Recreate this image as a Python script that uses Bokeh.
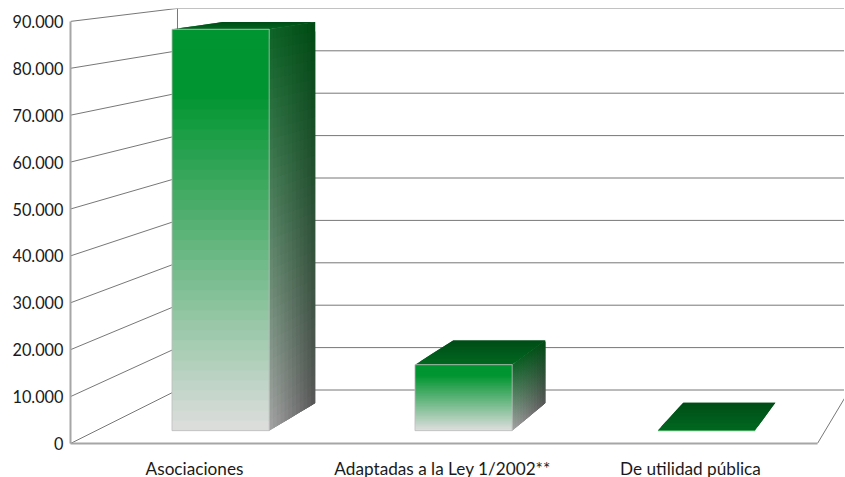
from bokeh.plotting import figure
from bokeh.embed import file_html
from bokeh.resources import INLINE
from bokeh.models import FixedTicker

categories = ["Asociaciones", "Adaptadas a la Ley 1/2002**", "De utilidad pública"]
values = [87600, 14400, 100]
tick_values = [0, 10000, 20000, 30000, 40000, 50000, 60000, 70000, 80000, 90000]
tick_labels = ["0", "10.000", "20.000", "30.000", "40.000", "50.000", "60.000", "70.000", "80.000", "90.000"]

PX_PER_CAT = 248.0
PX_PER_VAL = 46.9 / 10000
FONT = "Lato"

def proj(u, v, t):
    """category position u, value v, depth t (0 front .. 1 back) -> data coords"""
    left = -0.5 + t * 107 / PX_PER_CAT
    right = 2.512 + t * 32 / PX_PER_CAT
    x = left + (u + 0.5) / 3.0 * (right - left)
    y = v * (1 - t * (1 - 42.4 / 46.9)) + t * 53.5 / PX_PER_VAL
    return x, y

def hexc(c):
    return "#%02x%02x%02x" % tuple(int(round(a)) for a in c)

def mix(a, b, f):
    return tuple(p + (q - p) * f for p, q in zip(a, b))

GREEN = (0, 149, 48)
PALE = (222, 222, 222)
S_TL, S_TR = (14, 100, 40), (0, 74, 20)
S_BL, S_BR = (165, 165, 165), (85, 85, 85)
T_F, T_B = (0, 104, 32), (0, 76, 22)

p = figure(width=845, height=477, frame_width=774, frame_height=435,
           output_backend="svg", toolbar_location=None,
           x_range=(-0.5, 2.621), y_range=(0, 435 / PX_PER_VAL),
           min_border_left=70, min_border_right=0, min_border_top=8, min_border_bottom=34)
p.outline_line_color = None
p.grid.visible = False

# walls
GRID = "#777777"
for v in tick_values:
    x0, y0 = proj(-0.5, v, 0)
    x1, y1 = proj(-0.5, v, 1)
    x2, y2 = proj(2.8, v, 1)
    p.line([x0, x1, x2], [y0, y1, y1], line_color=GRID, line_width=1)
bx, by0 = proj(-0.5, 0, 1)
_, by1 = proj(-0.5, tick_values[-1], 1)
p.line([bx, bx], [by0, by1], line_color=GRID, line_width=1)
fx0, fy0 = proj(2.5, 0, 0)
fx1, fy1 = proj(2.5, 0, 1)
p.line([fx0, fx1], [fy0, fy1], line_color=GRID, line_width=1)

# bars
HW = 0.2
TF, TB = 0.24, 0.755
XS, YS, CS = [], [], []
for i, val in enumerate(values):
    u = i + 0.012
    # top
    a = proj(u - HW, val, TF); b = proj(u + HW, val, TF)
    c = proj(u + HW, val, TB); d = proj(u - HW, val, TB)
    n = 8
    for k in range(n):
        f0, f1 = k / n, min(1, (k + 2) / n)
        XS.append([a[0] + (d[0] - a[0]) * f0, b[0] + (c[0] - b[0]) * f0, b[0] + (c[0] - b[0]) * f1, a[0] + (d[0] - a[0]) * f1])
        YS.append([a[1] + (d[1] - a[1]) * f0, b[1] + (c[1] - b[1]) * f0, b[1] + (c[1] - b[1]) * f1, a[1] + (d[1] - a[1]) * f1])
        CS.append(hexc(mix(T_F, T_B, (k + .5) / n)))
    if val > 1000:
        # side
        rows, cols = 40, 12
        for r in range(rows):
            for q in range(cols):
                v0, v1 = val * (1 - r / rows), val * max(0, 1 - (r + 2) / rows)
                t0, t1 = TF + (TB - TF) * q / cols, TF + (TB - TF) * min(1, (q + 2) / cols)
                pts = [proj(u + HW, v0, t0), proj(u + HW, v0, t1), proj(u + HW, v1, t1), proj(u + HW, v1, t0)]
                XS.append([s[0] for s in pts]); YS.append([s[1] for s in pts])
                fr, fq = (r + .5) / rows, (q + .5) / cols
                CS.append(hexc(mix(mix(S_TL, S_TR, fq), mix(S_BL, S_BR, fq), fr)))
        # front
        bands = 40
        for r in range(bands):
            v0, v1 = val * (1 - r / bands), val * max(0, 1 - (r + 2) / bands)
            pts = [proj(u - HW, v0, TF), proj(u + HW, v0, TF), proj(u + HW, v1, TF), proj(u - HW, v1, TF)]
            XS.append([s[0] for s in pts]); YS.append([s[1] for s in pts])
            fr = (r + .5) / bands
            CS.append(hexc(mix(GREEN, PALE, max(0, (fr - 0.16) / 0.84))))
p.patches(XS, YS, fill_color=CS, line_color=None)
for i, val in enumerate(values):
    u = i + 0.012
    pts = [proj(u - HW, 0, TF), proj(u + HW, 0, TF), proj(u + HW, val, TF), proj(u - HW, val, TF), proj(u - HW, 0, TF)]
    if val > 1000:
        p.line([s[0] for s in pts], [s[1] for s in pts], line_color="#bdbdbd", line_width=0.8)
    else:
        p.line([pts[0][0], pts[1][0]], [pts[0][1], pts[1][1]], line_color="#2f9a4a", line_width=1)

# axes
p.xaxis.ticker = FixedTicker(ticks=[0, 1, 2])
p.xaxis.major_label_overrides = {i: c for i, c in enumerate(categories)}
p.xaxis.bounds = (-0.5, 2.512)
p.yaxis.ticker = FixedTicker(ticks=tick_values)
p.yaxis.major_label_overrides = dict(zip(tick_values, tick_labels))
p.yaxis.bounds = (0, tick_values[-1])
for ax in (p.xaxis[0], p.yaxis[0]):
    ax.axis_line_color = "#a6a6a6"
    ax.axis_line_width = 2
    ax.major_tick_line_color = None
    ax.minor_tick_line_color = None
    ax.major_tick_in = 0
    ax.major_tick_out = 0
    ax.major_label_text_font = FONT
    ax.major_label_text_color = "#1a1a1a"
p.xaxis.major_label_text_font_size = "17.2px"
p.yaxis.major_label_text_font_size = "16.3px"
p.xaxis.major_label_standoff = 14
p.yaxis.major_label_standoff = 7

open("out.html", "w").write(file_html(p, INLINE))
